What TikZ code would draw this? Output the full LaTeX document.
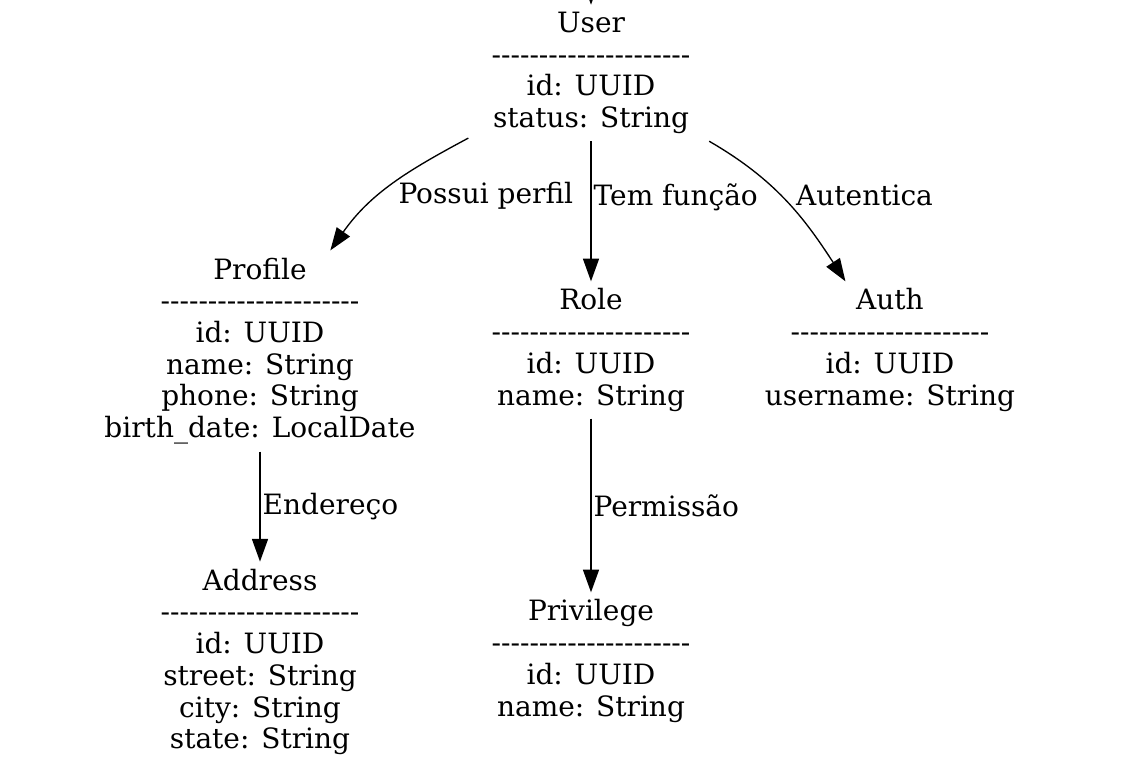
\documentclass[tikz,border=0pt]{standalone}
\usepackage{fontspec}
\setmainfont{DejaVu Serif}
\usetikzlibrary{positioning, arrows.meta}

% row of hyphens under the entity name
\newcommand{\dashrow}{\foreach \k in {1,...,21}{-\kern0pt}}

\begin{document}
\begin{tikzpicture}[x=0.75pt, y=-0.75pt,
    >={Triangle[length=17pt, width=12pt]},
    every node/.style={font=\fontsize{21pt}{23.8pt}\selectfont},
    every path/.style={line width=1pt},
    entity/.style={align=center, inner xsep=17pt, inner ysep=5pt},
    rel/.style={inner sep=1.5pt}
]
\useasboundingbox (0,0) rectangle (1123,771);

% Entity nodes
\node (user) [entity] at (591,73) {User\\\dashrow\\id: UUID\\status: String};
\node (profile) [entity] at (260,351) {Profile\\\dashrow\\id: UUID\\name: String\\phone: String\\birth\_date: LocalDate};
\node (role) [entity] at (591,350) {Role\\\dashrow\\id: UUID\\name: String};
\node (auth) [entity] at (890,350) {Auth\\\dashrow\\id: UUID\\username: String};
\node (address) [entity] at (260,662) {Address\\\dashrow\\id: UUID\\street: String\\city: String\\state: String};
\node (privilege) [entity] at (591,661) {Privilege\\\dashrow\\id: UUID\\name: String};
\coordinate (above) at (591,-40);

% Connection arrows
\draw[->] (above) -- (user);
\draw[->] (user) to[out=208, in=55] node[rel, pos=0.6, right, xshift=13pt] {Possui perfil} (profile);
\draw[->] (user) -- node[rel, pos=0.4, right] {Tem função} (role);
\draw[->] (user) to[out=-30, in=123] node[rel, pos=0.45, right, xshift=10pt] {Autentica} (auth);
\draw[->] (profile) -- node[rel, right] {Endereço} (address);
\draw[->] (role) -- node[rel, right] {Permissão} (privilege);

\end{tikzpicture}
\end{document}
